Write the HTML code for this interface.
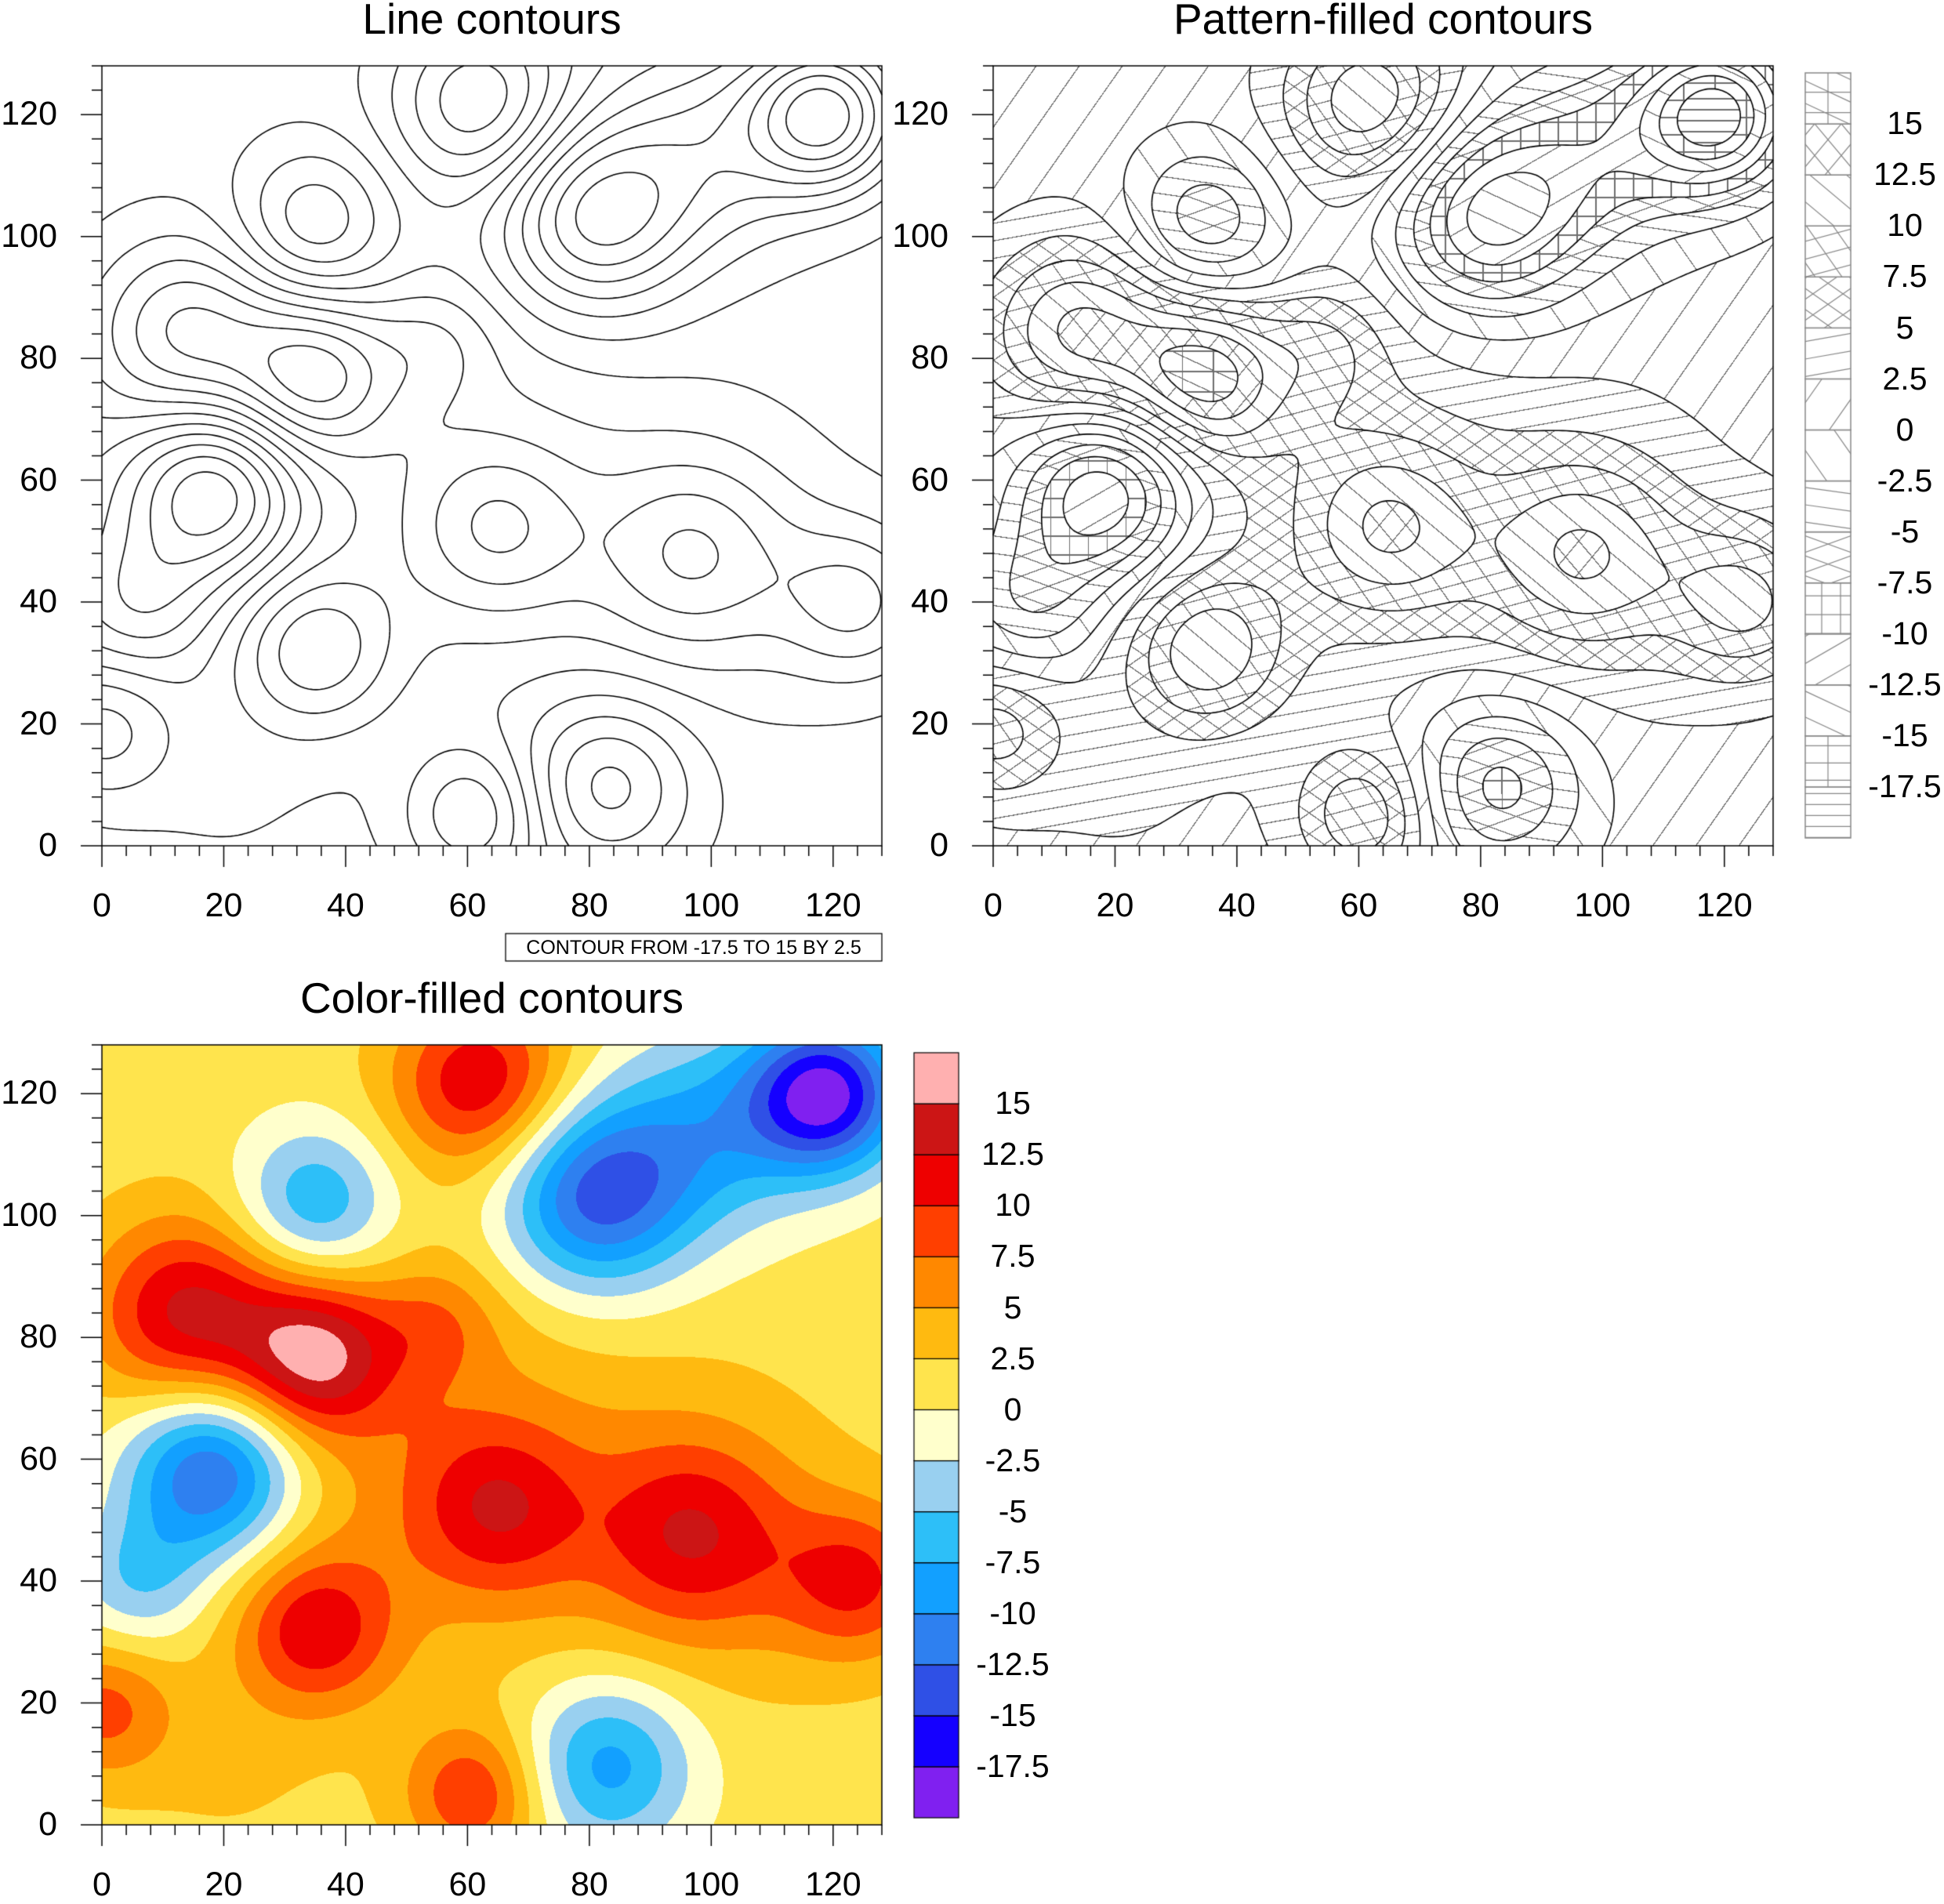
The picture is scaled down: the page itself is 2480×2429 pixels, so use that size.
<!DOCTYPE html>
<html><head><meta charset="utf-8"><style>
body{margin:0;background:#fff;width:2480px;height:2422px;overflow:hidden;position:relative;font-family:"Liberation Sans",sans-serif}
.t{position:absolute;white-space:nowrap;color:#000}
canvas{position:absolute;left:0;top:0}
</style></head><body>
<canvas id="cv" width="2480" height="2422"></canvas>
<div id="txt"></div>
<script>
// ---- data: field built from Gaussian bumps ----
const bumpX   = [35, 14, 65, 97, 124, 35, 62, 61, 0, 55, 119, 81, 18, 6, 35, 83, 55, 100, 100, 20];
const bumpY   = [77, 84, 52, 48, 40, 32, 122, 5, 19, 82, 120, 103, 58, 40, 102, 10, 60, 45, 114, 10];
const bumpAmp = [12.5, 11.5, 8, 8, 8.5, 9.5, 11, 8.5, 7, 4, -19, -14.5, -15, -6, -9, -10, 4, 3, -8, 1.5];
const bumpSig = [9, 11, 10, 11, 9, 9, 10, 8, 8, 7, 9, 11, 10, 8, 9, 10, 25, 18, 12, 12];
const baseVal = 1.2;
const levels = [-17.5,-15,-12.5,-10,-7.5,-5,-2.5,0,2.5,5,7.5,10,12.5,15];
const levelLabels = ["-17.5","-15","-12.5","-10","-7.5","-5","-2.5","0","2.5","5","7.5","10","12.5","15"];
const colors = ["#8020f0","#1500ff","#2f50e6","#2e80f0","#12a0ff","#2dbff8","#99d0f0","#ffffcc","#ffe44d","#ffba10","#ff8800","#ff3f00","#ee0000","#cc1515","#ffb0b0"];
const xTicks = [0,20,40,60,80,100,120];
const yTicks = [0,20,40,60,80,100,120];

function f(x,y){let v=baseVal;for(let i=0;i<bumpX.length;i++){const dx=x-bumpX[i],dy=y-bumpY[i];v+=bumpAmp[i]*Math.exp(-(dx*dx+dy*dy)/(2*bumpSig[i]*bumpSig[i]));}return v;}
function band(v){let b=0;for(const l of levels) if(v>=l) b++;return b;}

const cv=document.getElementById('cv'),ctx=cv.getContext('2d');
const S=995, DMAX=128;
const panels={line:{x:130,y:84},pat:{x:1267,y:84},col:{x:130,y:1333}};
const F=new Float32Array(S*S);
for(let j=0;j<S;j++)for(let i=0;i<S;i++)F[j*S+i]=f(i/S*DMAX,DMAX-j/S*DMAX);

const hatch=[[[0,14]],[[90,40],[0,22]],[[25,30]],[[-30,30]],[[90,24],[0,24]],[[20,24],[-20,24]],[[8,22]],[[55,45]],[[-55,45]],[[-10,22]],[[35,22],[-35,22]],[[55,28],[-15,22]],[[40,30]],[[50,26],[-50,26]],[[25,26],[90,40],[0,26]]];
function onHatch(px,py,b){for(const [a,sp] of hatch[b]){const r=a*Math.PI/180;const d=px*Math.sin(r)-py*Math.cos(r);const m=((d%sp)+sp)%sp;if(m<1.3)return true;}return false;}

function drawFilled(P,pattern){
  const img=ctx.createImageData(S,S);const rgb=colors.map(c=>[parseInt(c.substr(1,2),16),parseInt(c.substr(3,2),16),parseInt(c.substr(5,2),16)]);
  for(let j=0;j<S;j++)for(let i=0;i<S;i++){const b=band(F[j*S+i]);const k=(j*S+i)*4;let c;
    if(pattern){c=onHatch(i,j,b)?[110,110,110]:[255,255,255];}else c=rgb[b];
    img.data[k]=c[0];img.data[k+1]=c[1];img.data[k+2]=c[2];img.data[k+3]=255;}
  ctx.putImageData(img,P.x,P.y);
}
function drawLines(P){
  const N=200,g=[];for(let j=0;j<=N;j++){g.push([]);for(let i=0;i<=N;i++)g[j].push(f(i/N*DMAX,j/N*DMAX));}
  const sx=x=>P.x+x/DMAX*S, sy=y=>P.y+S-y/DMAX*S, cs=DMAX/N;
  ctx.strokeStyle='#000';ctx.lineWidth=1.6;ctx.beginPath();
  for(const L of levels){for(let j=0;j<N;j++)for(let i=0;i<N;i++){
    const v=[g[j][i],g[j][i+1],g[j+1][i+1],g[j+1][i]];const p=[[i,j],[i+1,j],[i+1,j+1],[i,j+1]];const pts=[];
    for(let e=0;e<4;e++){const a=v[e],b=v[(e+1)%4];if((a<L)!==(b<L)){const t=(L-a)/(b-a);pts.push([(p[e][0]+t*(p[(e+1)%4][0]-p[e][0]))*cs,(p[e][1]+t*(p[(e+1)%4][1]-p[e][1]))*cs]);}}
    for(let k=0;k+1<pts.length;k+=2){ctx.moveTo(sx(pts[k][0]),sy(pts[k][1]));ctx.lineTo(sx(pts[k+1][0]),sy(pts[k+1][1]));}
  }}
  ctx.stroke();
}
const txt=document.getElementById('txt');
function addText(s,x,y,size,align,name){const d=document.createElement('div');d.className='t';d.textContent=s;d.style.fontSize=size+'px';d.style.top=(y-size*0.58)+'px';
  if(align==='c'){d.style.left=x+'px';d.style.transform='translateX(-50%)';}else if(align==='r'){d.style.right=(2480-x)+'px';}else d.style.left=x+'px';
  
  
  txt.appendChild(d);return d;}
function drawAxes(P,title){
  ctx.strokeStyle='#000';ctx.lineWidth=1.5;ctx.strokeRect(P.x,P.y,S,S);
  ctx.beginPath();
  for(let v=0;v<=DMAX;v+=4){const maj=v%20===0;const L=maj?27:13;const x=P.x+v/DMAX*S,y=P.y+S-v/DMAX*S;
    ctx.moveTo(x,P.y+S);ctx.lineTo(x,P.y+S+L);ctx.moveTo(P.x,y);ctx.lineTo(P.x-L,y);}
  ctx.stroke();
  xTicks.forEach(v=>addText(String(v),P.x+v/DMAX*S,P.y+S+77,43,'c','x-tick-label'));
  yTicks.forEach(v=>addText(String(v),P.x-57,P.y+S-v/DMAX*S,43,'r','y-tick-label'));
  addText(title,P.x+S/2,P.y-60,55,'c','plot-title');
}
function colorbar(x,y,w,h,pattern,name){
  const bh=h/15;
  for(let b=0;b<15;b++){const top=y+(14-b)*bh;
    if(pattern){ctx.save();ctx.beginPath();ctx.rect(x,top,w,bh);ctx.clip();ctx.fillStyle='#fff';ctx.fillRect(x,top,w,bh);ctx.strokeStyle='#888';ctx.lineWidth=1.2;
      for(const [a,sp] of hatch[b]){const r=a*Math.PI/180;ctx.beginPath();for(let d=-200;d<200;d+=sp){const cx=x+w/2+d*Math.sin(r),cy=top+bh/2-d*Math.cos(r);ctx.moveTo(cx-300*Math.cos(r),cy-300*Math.sin(r));ctx.lineTo(cx+300*Math.cos(r),cy+300*Math.sin(r));}ctx.stroke();}
      ctx.restore();ctx.strokeStyle='#888';ctx.strokeRect(x,top,w,bh);}
    else{ctx.fillStyle=colors[b];ctx.fillRect(x,top,w,bh);ctx.strokeStyle='#000';ctx.lineWidth=1.2;ctx.strokeRect(x,top,w,bh);}
  }
  levelLabels.forEach((s,i)=>addText(s,x+w+69,y+(14-i)*bh,41,'c',name+'-label'));
}
drawFilled(panels.pat,true);drawLines(panels.pat);
drawFilled(panels.col,false);
drawLines(panels.line);
drawAxes(panels.line,'Line contours');
drawAxes(panels.pat,'Pattern-filled contours');
drawAxes(panels.col,'Color-filled contours');
colorbar(2303,93,58,976,true,'pattern-colorbar');
colorbar(1166,1343,57,976,false,'color-colorbar');
ctx.strokeStyle='#000';ctx.lineWidth=1.3;ctx.strokeRect(645,1191,480,35);
addText('CONTOUR FROM -17.5 TO 15 BY 2.5',885,1209,25,'c','contour-info-label');
</script>
</body></html>
